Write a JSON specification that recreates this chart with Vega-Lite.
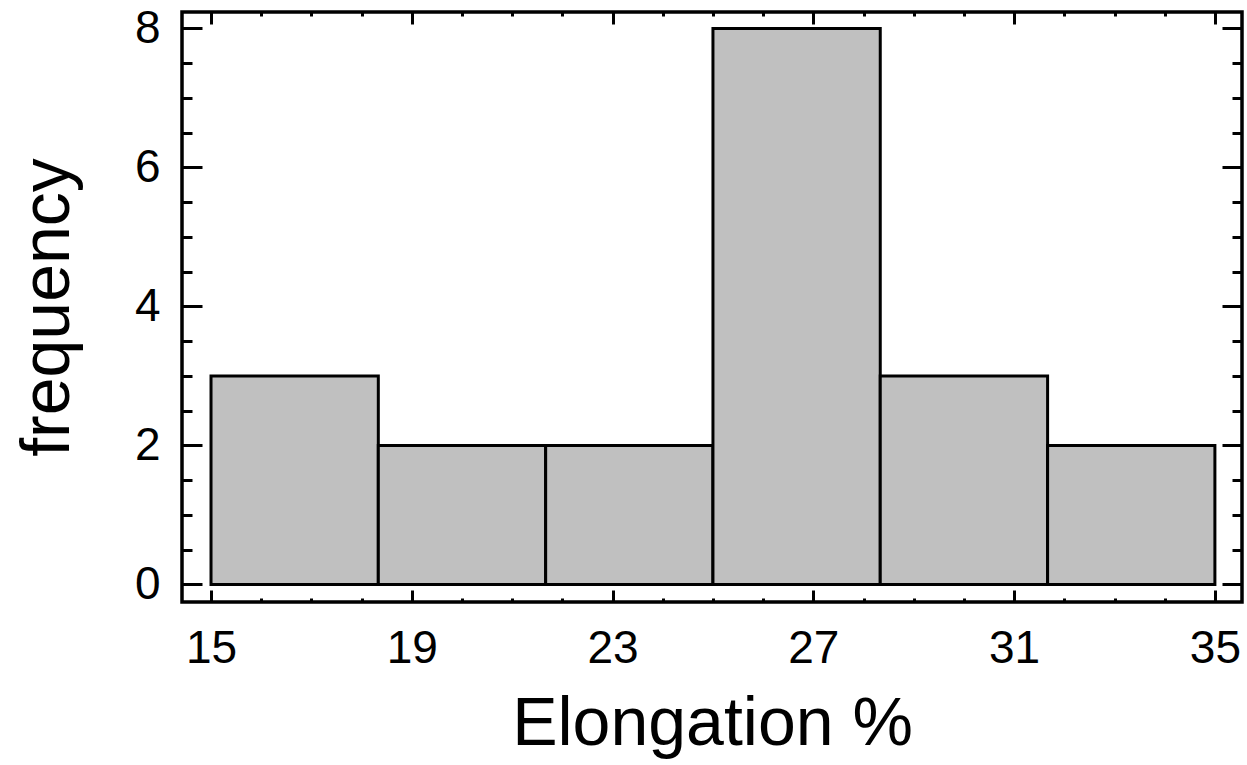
{
  "$schema": "https://vega.github.io/schema/vega-lite/v6.json",
  "autosize": "none",
  "width": 1060,
  "height": 590,
  "padding": {"left": 182, "top": 12, "right": 5, "bottom": 163},
  "background": "white",
  "config": {
    "view": {"stroke": "black", "strokeWidth": 3.5},
    "axis": {
      "domain": false,
      "grid": false,
      "tickColor": "black",
      "tickWidth": 3,
      "labelFont": "Liberation Sans",
      "titleFont": "Liberation Sans",
      "labelColor": "black",
      "titleColor": "black",
      "labelFontSize": 46,
      "titleFontSize": 68,
      "titleFontWeight": "normal"
    }
  },
  "data": {
    "values": [
      {"start": 15.0, "end": 18.333, "count": 3},
      {"start": 18.333, "end": 21.667, "count": 2},
      {"start": 21.667, "end": 25.0, "count": 2},
      {"start": 25.0, "end": 28.333, "count": 8},
      {"start": 28.333, "end": 31.667, "count": 3},
      {"start": 31.667, "end": 35.0, "count": 2}
    ]
  },
  "resolve": {"axis": {"x": "independent", "y": "independent"}},
  "layer": [
    {
      "mark": {"type": "bar", "fill": "#c0c0c0", "stroke": "black", "strokeWidth": 3},
      "encoding": {
        "x": {
          "field": "start", "type": "quantitative",
          "scale": {"domain": [14.422, 35.54], "nice": false, "zero": false},
          "axis": {"orient": "bottom", "values": [15, 19, 23, 27, 31, 35], "tickSize": -12, "labelPadding": 36, "title": "Elongation %", "titlePadding": 19, "labelFlush": false}
        },
        "x2": {"field": "end"},
        "y": {
          "field": "count", "type": "quantitative",
          "scale": {"domain": [-0.252, 8.237], "nice": false, "zero": false},
          "axis": {"orient": "left", "values": [0, 2, 4, 6, 8], "tickSize": -20, "labelPadding": 42, "title": "frequency", "titlePadding": 52, "labelFlush": false}
        },
        "y2": {"datum": 0}
      }
    },
    {
      "mark": {"type": "bar", "opacity": 0},
      "encoding": {
        "x": {"field": "start", "type": "quantitative",
          "axis": {"orient": "bottom", "values": [15,16,17,18,19,20,21,22,23,24,25,26,27,28,29,30,31,32,33,34,35], "tickSize": -4, "labels": false, "title": null}},
        "x2": {"field": "end"},
        "y": {"field": "count", "type": "quantitative",
          "axis": {"orient": "left", "values": [0.5,1,1.5,2.5,3,3.5,4.5,5,5.5,6.5,7,7.5], "tickSize": -10, "labels": false, "title": null}},
        "y2": {"datum": 0}
      }
    },
    {
      "mark": {"type": "bar", "opacity": 0},
      "encoding": {
        "x": {"field": "start", "type": "quantitative",
          "axis": {"orient": "top", "values": [15, 19, 23, 27, 31, 35], "tickSize": -12, "labels": false, "title": null}},
        "x2": {"field": "end"},
        "y": {"field": "count", "type": "quantitative",
          "axis": {"orient": "right", "values": [0, 2, 4, 6, 8], "tickSize": -20, "labels": false, "title": null}},
        "y2": {"datum": 0}
      }
    },
    {
      "mark": {"type": "bar", "opacity": 0},
      "encoding": {
        "x": {"field": "start", "type": "quantitative",
          "axis": {"orient": "top", "values": [15,16,17,18,19,20,21,22,23,24,25,26,27,28,29,30,31,32,33,34,35], "tickSize": -4, "labels": false, "title": null}},
        "x2": {"field": "end"},
        "y": {"field": "count", "type": "quantitative",
          "axis": {"orient": "right", "values": [0.5,1,1.5,2.5,3,3.5,4.5,5,5.5,6.5,7,7.5], "tickSize": -10, "labels": false, "title": null}},
        "y2": {"datum": 0}
      }
    }
  ]
}
